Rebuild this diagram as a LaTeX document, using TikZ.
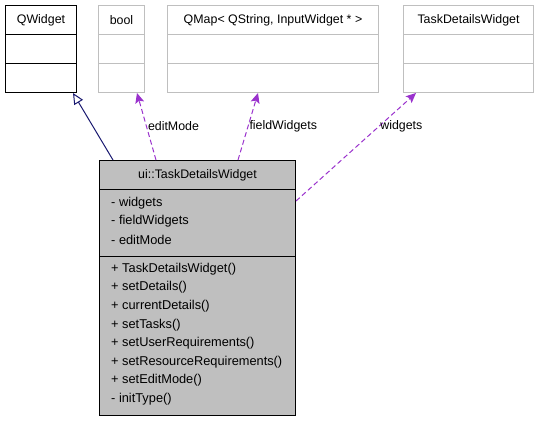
\documentclass[tikz,border=0pt]{standalone}
\usepackage{fontspec}
\usetikzlibrary{arrows.meta}
\newfontfamily\umlfont{Liberation Sans}
\definecolor{umlgrey}{HTML}{BFBFBF}
\definecolor{ghostline}{HTML}{BFBFBF}
\definecolor{usecol}{HTML}{9A32CD}
\definecolor{inhcol}{HTML}{191970}
\tikzset{
	cls/.style={draw=black, fill=white, line width=1pt, anchor=north west, inner sep=0pt,
		font=\umlfont\fontsize{12.4}{14}\selectfont}
}
\tikzset{
	ext/.style={cls, draw=ghostline},
	main/.style={cls, fill=umlgrey},
	member/.style={anchor=west, inner sep=0pt, font=\umlfont\fontsize{12.8}{14}\selectfont},
	lbl/.style={anchor=west, inner sep=1pt, font=\umlfont\fontsize{12.4}{14}\selectfont},
	usage/.style={draw=usecol, line width=1pt, dash pattern=on 5pt off 3pt,
		-{Stealth[length=10pt,width=9pt,inset=2pt]}},
	inherit/.style={draw=inhcol, line width=1pt, -{Triangle[open,length=11pt,width=10pt]}}
}
\begin{document}
\begin{tikzpicture}[x=1pt,y=-1pt]
	\useasboundingbox (0,0) rectangle (536,421);
	% base and used classes
	\node[cls, minimum width=71pt, minimum height=29pt] (qw-1) at (5,5) {QWidget};
	\node[cls, minimum width=71pt, minimum height=29pt] (qw-2) at (5,34) {};
	\node[cls, minimum width=71pt, minimum height=29pt] (qw-3) at (5,63) {};
	\node[ext, minimum width=46pt, minimum height=29pt] (bool-1) at (98,5) {bool};
	\node[ext, minimum width=46pt, minimum height=29pt] (bool-2) at (98,34) {};
	\node[ext, minimum width=46pt, minimum height=29pt] (bool-3) at (98,63) {};
	\node[ext, minimum width=211pt, minimum height=29pt] (qmap-1) at (167,5) {QMap< QString, InputWidget * >};
	\node[ext, minimum width=211pt, minimum height=29pt] (qmap-2) at (167,34) {};
	\node[ext, minimum width=211pt, minimum height=29pt] (qmap-3) at (167,63) {};
	\node[ext, minimum width=130pt, minimum height=29pt] (tdwx-1) at (403,5) {TaskDetailsWidget};
	\node[ext, minimum width=130pt, minimum height=29pt] (tdwx-2) at (403,34) {};
	\node[ext, minimum width=130pt, minimum height=29pt] (tdwx-3) at (403,63) {};
	% the documented class
	\node[main, minimum width=196pt, minimum height=29pt] (tdw-1) at (99,160) {ui::TaskDetailsWidget};
	\node[main, minimum width=196pt, minimum height=67pt] (tdw-2) at (99,189) {};
	\node[main, minimum width=196pt, minimum height=159pt] (tdw-3) at (99,256) {};
	\foreach \m [count=\i] in {widgets,fieldWidgets,editMode}{
		\node[member] (attr-\i) at (111,184.5+18.5*\i) {- \m};
	}
	\foreach \m [count=\i] in {+ TaskDetailsWidget(),+ setDetails(),+ currentDetails(),+ setTasks(),
		+ setUserRequirements(),+ setResourceRequirements(),+ setEditMode(),- initType()}{
		\node[member] (meth-\i) at (111,250.4+18.6*\i) {\m};
	}
	% relations
	\draw[inherit] ([xshift=14pt]tdw-1.north west) -- ([xshift=-4pt]qw-3.south east);
	\draw[usage] ([xshift=57pt]tdw-1.north west) -- node[lbl, midway] {editMode} ([xshift=-8pt]bool-3.south east);
	\draw[usage] ([xshift=139pt]tdw-1.north west) -- node[lbl, midway] {fieldWidgets} ([xshift=91pt]qmap-3.south west);
	\draw[usage] ([yshift=-12pt]tdw-2.north east) -- node[lbl, pos=0.69] {widgets} ([xshift=13pt]tdwx-3.south west);
\end{tikzpicture}
\end{document}
